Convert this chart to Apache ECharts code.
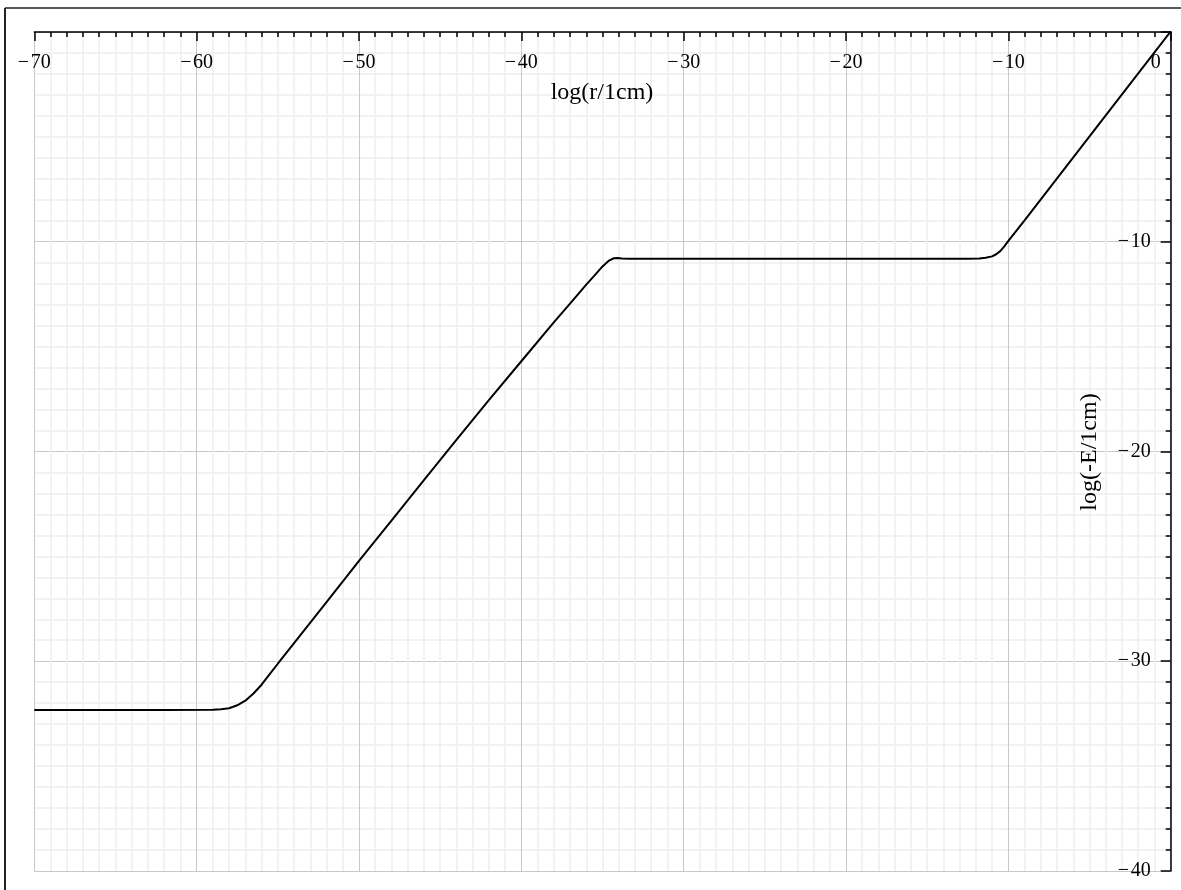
<!DOCTYPE html>
<html>
<head>
<meta charset="utf-8">
<script src="https://cdn.jsdelivr.net/npm/echarts@6/dist/echarts.min.js"></script>
<style>
html,body{margin:0;padding:0;background:#fff;}
#chart{width:1181px;height:890px;}
</style>
</head>
<body>
<div id="chart"></div>
<script>
// log(r/1cm) values
var xValues = [-70, -66, -62, -59, -58.5, -58, -57.5, -57, -56.5, -56, -55.5, -55, -54, -52, -50, -48, -46, -44, -42, -40, -38, -37, -36, -35.5, -35, -34.6, -34.3, -34.1, -33.8, -33.3, -30, -25, -20, -15, -12.5, -11.8, -11.4, -11, -10.75, -10.5, -10.25, -10, -9.5, -9, -8, -6, -4, -2, 0];
// log(-E/1cm) values
var yValues = [-32.32, -32.32, -32.32, -32.31, -32.29, -32.24, -32.1, -31.88, -31.54, -31.12, -30.62, -30.12, -29.14, -27.18, -25.22, -23.3, -21.37, -19.45, -17.55, -15.7, -13.85, -12.95, -12.05, -11.62, -11.18, -10.9, -10.79, -10.78, -10.8, -10.81, -10.81, -10.81, -10.81, -10.81, -10.81, -10.8, -10.77, -10.7, -10.6, -10.45, -10.22, -9.96, -9.47, -8.98, -7.98, -5.98, -3.98, -1.98, 0.02];
var xTicks = {min: -70, max: 0, step: 10};
var yTicks = {min: -40, max: 0, step: 10};
var xName = 'log(r/1cm)';
var yName = 'log(-E/1cm)';

var pts = xValues.map(function (x, i) { return [x, yValues[i]]; });
function fmt(v) {
  if (v === 0) return '{z|0}';
  return v < 0 ? '\u2212\u200a' + Math.abs(v) : String(v);
}
var FONT = 'Liberation Serif';

var chart = echarts.init(document.getElementById('chart'), null, {renderer: 'canvas'});
chart.setOption({
  backgroundColor: '#ffffff',
  animation: false,
  grid: {left: 34.3, right: 10.3, top: 31.9, bottom: 19, containLabel: false, outerBoundsMode: 'none'},
  xAxis: {
    type: 'value', position: 'top',
    min: xTicks.min, max: xTicks.max, interval: xTicks.step,
    axisLine: {show: true, onZero: false, lineStyle: {color: '#000', width: 1.5}},
    axisTick: {show: true, inside: true, length: 9, lineStyle: {color: '#000', width: 1.5}},
    minorTick: {show: true, splitNumber: 10, length: 5, lineStyle: {color: '#000', width: 1.5}},
    axisLabel: {inside: true, margin: 21, fontFamily: FONT, fontSize: 20, color: '#000',
      formatter: fmt, rich: {z: {fontFamily: FONT, fontSize: 20, color: '#000', padding: [0, 30, 0, 0]}}},
    splitLine: {show: true, lineStyle: {color: '#c8c8c8', width: 1}},
    minorSplitLine: {show: true, lineStyle: {color: '#eeeeee', width: 1.5}}
  },
  yAxis: {
    type: 'value', position: 'right',
    min: yTicks.min, max: yTicks.max, interval: yTicks.step,
    axisLine: {show: true, onZero: false, lineStyle: {color: '#000', width: 1.5}},
    axisTick: {show: true, inside: true, length: 10, lineStyle: {color: '#000', width: 1.5}},
    minorTick: {show: true, splitNumber: 10, length: 5, lineStyle: {color: '#000', width: 1.5}},
    axisLabel: {inside: true, margin: 20, fontFamily: FONT, fontSize: 20, color: '#000',
      showMaxLabel: false, formatter: fmt},
    splitLine: {show: true, lineStyle: {color: '#c8c8c8', width: 1}},
    minorSplitLine: {show: true, lineStyle: {color: '#eeeeee', width: 1.5}}
  },
  series: [{
    type: 'line', data: pts, showSymbol: false, smooth: false, clip: true,
    lineStyle: {color: '#000', width: 2}
  }],
  graphic: [
    {type: 'line', z: 100, shape: {x1: 5, y1: 8, x2: 1181, y2: 8}, style: {stroke: '#222', lineWidth: 1.7}},
    {type: 'line', z: 100, shape: {x1: 5, y1: 8, x2: 5, y2: 890}, style: {stroke: '#222', lineWidth: 2}},
    {type: 'text', z: 100, x: 602, y: 93, style: {text: xName, fontFamily: FONT, fontSize: 24, fill: '#000', align: 'center', verticalAlign: 'middle'}},
    {type: 'text', z: 100, x: 1090, y: 452, rotation: Math.PI / 2, style: {text: yName, fontFamily: FONT, fontSize: 24, fill: '#000', align: 'center', verticalAlign: 'middle'}}
  ]
});
</script>
</body>
</html>
